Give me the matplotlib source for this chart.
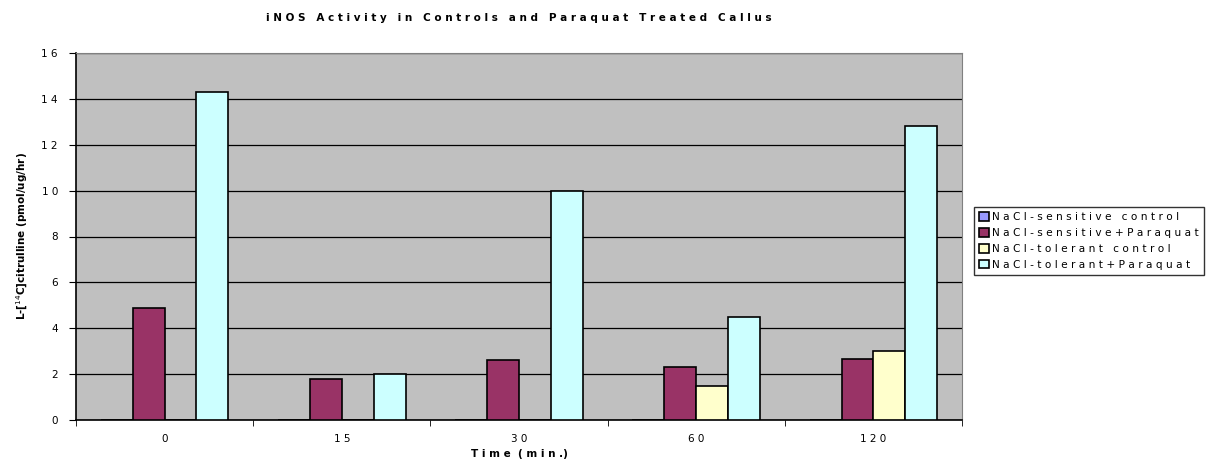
import numpy as np
import matplotlib
matplotlib.use("Agg")
import matplotlib.pyplot as plt

# sampling times and measured activity per treatment
times = ["0", "15", "30", "60", "120"]
series_names = ["NaCl-sensitive control", "NaCl-sensitive+Paraquat",
                "NaCl-tolerant control", "NaCl-tolerant+Paraquat"]
sens_control = [0, 0, 0, 0, 0]
sens_paraquat = [4.9, 1.8, 2.6, 2.3, 2.65]
tol_control = [0, 0, 0, 1.5, 3.0]
tol_paraquat = [14.3, 2.0, 10.0, 4.5, 12.8]
colors = ["#9999FF", "#993366", "#FFFFCC", "#CCFFFF"]


def spaced(s):
    # old excel export look: spread the letters out
    return " ".join(s)


fig = plt.figure(figsize=(12.07, 4.63), dpi=100)
ax = fig.add_axes([76 / 1207, 43 / 463, 886 / 1207, 367 / 463])
ax.set_facecolor("#C0C0C0")

values = [sens_control, sens_paraquat, tol_control, tol_paraquat]
x = np.arange(len(times))
w = 0.18
for i, vals in enumerate(values):
    ax.bar(x + (i - 1.5) * w, vals, width=w, color=colors[i],
           edgecolor="black", linewidth=1.2, label=spaced(series_names[i]), zorder=3)

ax.set_xlim(-0.5, len(times) - 0.5)
ax.set_ylim(0, 16)
ax.set_yticks(range(0, 17, 2))
ax.set_yticklabels([spaced(str(v)) for v in range(0, 17, 2)], fontsize=7.5)
ax.yaxis.grid(True, color="black", linewidth=0.9, zorder=1)
ax.set_axisbelow(True)

# category labels in the middle, ticks on the boundaries
ax.set_xticks(x)
ax.set_xticklabels([spaced(t) for t in times], fontsize=7.5)
ax.tick_params(axis="x", length=0, pad=10)
ax.set_xticks(np.arange(-0.5, len(times) + 0.5), minor=True)
ax.tick_params(axis="x", which="minor", length=4, direction="out")
ax.tick_params(axis="y", length=5, direction="out", pad=8)

for s in ["top", "right"]:
    ax.spines[s].set_color("#808080")
ax.spines["left"].set_linewidth(1.2)
ax.spines["bottom"].set_linewidth(1.2)

ax.set_xlabel("T i m e  ( m i n .)", fontsize=7.5, fontweight="bold", labelpad=4)
ax.set_ylabel(r"L-[$^{14}$C]citrulline (pmol/ug/hr)", fontsize=7.5,
              fontweight="bold", labelpad=8)
fig.text(0.5 * (76 + 962) / 1207, 1 - 18 / 463,
         spaced("iNOS Activity in Controls and Paraquat Treated Callus"),
         ha="center", va="center", fontsize=7.5, fontweight="bold")

leg = ax.legend(loc="center left", bbox_to_anchor=(974 / 1207, 1 - 241 / 463),
                bbox_transform=fig.transFigure, fontsize=7.6, frameon=True,
                fancybox=False, edgecolor="black", handlelength=0.9,
                handleheight=0.9, handletextpad=0.3, borderpad=0.5,
                labelspacing=0.55, borderaxespad=0)
leg.get_frame().set_linewidth(1.0)

fig.savefig("out.png", dpi=100)
